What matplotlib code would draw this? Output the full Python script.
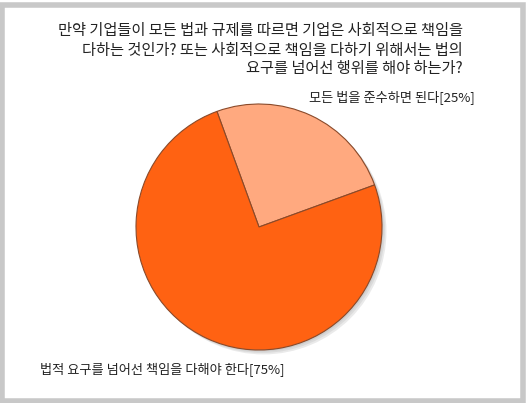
import matplotlib
matplotlib.use("Agg")
import matplotlib.pyplot as plt
from matplotlib.patches import Circle, Rectangle

plt.rcParams['font.family'] = ['Noto Sans CJK KR', 'DejaVu Sans']

title_lines = ["만약 기업들이 모든 법과 규제를 따르면 기업은 사회적으로 책임을",
               "다하는 것인가? 또는 사회적으로 책임을 다하기 위해서는 법의",
               "요구를 넘어선 행위를 해야 하는가?"]
labels = ["모든 법을 준수하면 된다[25%]", "법적 요구를 넘어선 책임을 다해야 한다[75%]"]
values = [25, 75]
colors = ["#FFA97F", "#FF6212"]

W, H = 526, 403
fig = plt.figure(figsize=(W / 100, H / 100), dpi=100)
fig.patch.set_facecolor("white")

# grey frame around the white panel
frame = Rectangle((2 / W, 2.5 / H), (W - 5) / W, (H - 7) / H,
                  transform=fig.transFigure, facecolor="none",
                  edgecolor="#c8c8c8", linewidth=4, zorder=-1)
fig.patches.append(frame)

# pie axes
cx, cy, r = 259, 227, 123
pad = 1.06
ax = fig.add_axes([(cx - r * pad) / W, (H - cy - r * pad) / H,
                   2 * r * pad / W, 2 * r * pad / H])
ax.axis("off")

# soft shadow
for i, a in enumerate([0.10, 0.10, 0.12]):
    off = 0.012 * (i + 1)
    ax.add_patch(Circle((off, -off), 1.0, facecolor="#555555", alpha=a,
                        edgecolor="none", zorder=0))

ax.pie(values, colors=colors, startangle=110, counterclock=False, radius=1.0,
       wedgeprops=dict(edgecolor="#8a4a2a", linewidth=0.8, zorder=2))
ax.set_xlim(-pad, pad)
ax.set_ylim(-pad, pad)
ax.set_aspect("equal")

# title
title_y = [30, 50, 69]
for line, y in zip(title_lines, title_y):
    fig.text(463 / W, 1 - y / H, line, ha="right", va="center",
             fontsize=11, color="#222222")

fig.text(475 / W, 1 - 97 / H, labels[0], ha="right", va="center",
         fontsize=9.5, color="#222222")
fig.text(40 / W, 1 - 370 / H, labels[1], ha="left", va="center",
         fontsize=9.5, color="#222222")

fig.savefig("out.png", dpi=100)
